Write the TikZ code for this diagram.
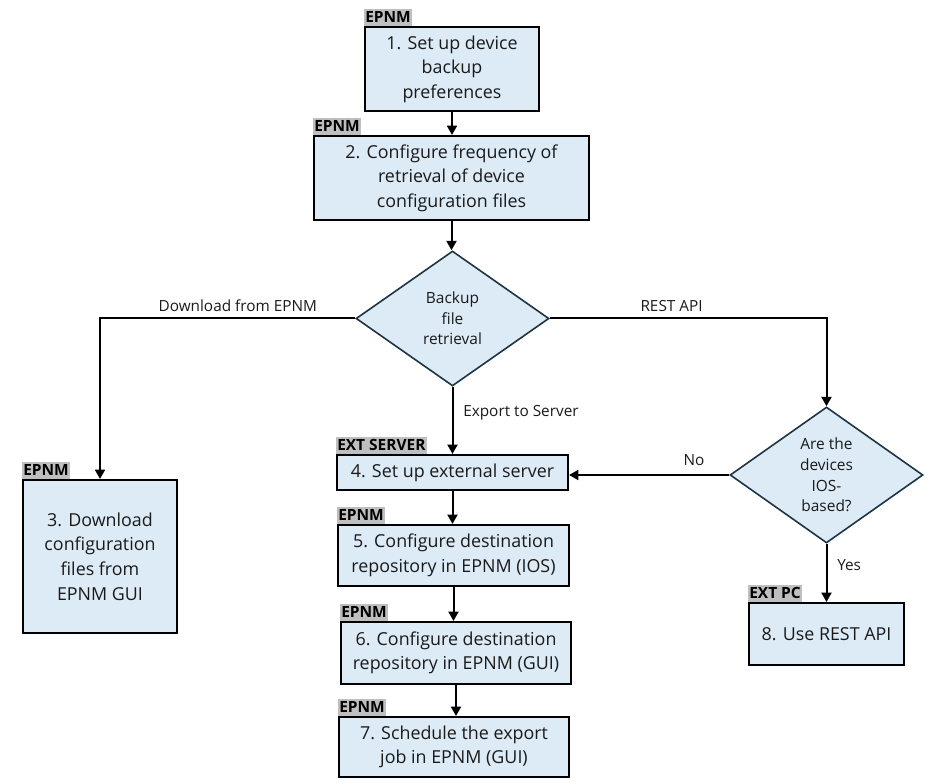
\documentclass[tikz,border=0pt]{standalone}
\usepackage{fontspec}
\setmainfont{Open Sans}
\usetikzlibrary{shapes.geometric,arrows.meta,positioning}
\definecolor{boxfill}{RGB}{221,235,247}
\definecolor{tagfill}{RGB}{191,191,191}
\definecolor{diaborder}{RGB}{30,52,66}
\definecolor{inktext}{RGB}{26,26,26}
\tikzset{step node/.style={rectangle,fill=boxfill,draw=black,line width=1.6pt,inner sep=0pt,align=center,text=inktext,font=\fontsize{13.4}{18.4}\selectfont},
         decision node/.style={diamond,fill=boxfill,draw=diaborder,line width=1.2pt,inner sep=0pt,align=center,text=inktext,font=\fontsize{11.6}{15.5}\selectfont},
         tag node/.style={rectangle,fill=tagfill,draw=none,inner xsep=0.8pt,inner ysep=0pt,minimum height=12.75pt,font=\fontsize{11.6}{12}\selectfont\bfseries},
         edge label/.style={rectangle,draw=none,fill=none,text=inktext,font=\fontsize{11.5}{12}\selectfont}
}

\begin{document}
\begin{tikzpicture}[x=0.75pt,y=-0.75pt,
flow/.style={line width=1.5pt,-{Triangle[length=7pt,width=7.5pt]}}]
\useasboundingbox (0,0) rectangle (929,784);

% steps
\node[step node,minimum width=174*0.75pt,minimum height=84*0.75pt] (1) at (452,69) {1. Set up device\\backup\\preferences};
\node[step node,minimum width=275*0.75pt,minimum height=84*0.75pt] (2) at (451.5,178) {2. Configure frequency of\\retrieval of device\\configuration files};
\node[step node,minimum width=154*0.75pt,minimum height=153*0.75pt] (3) at (100,556.5) {3. Download\\configuration\\files from\\EPNM GUI};
\node[step node,minimum width=231*0.75pt,minimum height=35*0.75pt] (4) at (452.5,472.5) {4. Set up external server};
\node[step node,minimum width=231*0.75pt,minimum height=61*0.75pt] (5) at (453.5,555.5) {5. Configure destination\\repository in EPNM (IOS)};
\node[step node,minimum width=230*0.75pt,minimum height=62*0.75pt] (6) at (456,653) {6. Configure destination\\repository in EPNM (GUI)};
\node[step node,minimum width=230*0.75pt,minimum height=60*0.75pt] (7) at (454,747) {7. Schedule the export\\job in EPNM (GUI)};
\node[step node,minimum width=155*0.75pt,minimum height=62*0.75pt] (8) at (826.5,634) {8. Use REST API};

% decisions
\node[decision node,minimum width=193*0.75pt,minimum height=135*0.75pt] (q1) at (452.5,318.5) {Backup\\file\\retrieval};
\node[decision node,minimum width=193*0.75pt,minimum height=136*0.75pt] (q2) at (826.5,475) {Are the\\devices\\IOS-\\based?};

% tags
\node[tag node,anchor=south west] (t1) at (1.north west) {EPNM};
\node[tag node,anchor=south west] (t2) at (2.north west) {EPNM};
\node[tag node,anchor=south west] (t3) at (3.north west) {EPNM};
\node[tag node,anchor=south west] (t4) at (4.north west) {EXT SERVER};
\node[tag node,anchor=south west] (t5) at (5.north west) {EPNM};
\node[tag node,anchor=south west] (t6) at (6.north west) {EPNM};
\node[tag node,anchor=south west] (t7) at (7.north west) {EPNM};
\node[tag node,anchor=south west] (t8) at (8.north west) {EXT PC};

% connectors
\draw[flow] (1.south) -- (1.south |- 2.north);
\draw[flow] (2.south) -- (2.south |- q1.north);
\draw[flow] (q1.west) -| node[edge label,pos=0.23,above=1pt] {Download from EPNM} (3.north);
\draw[flow] (q1.east) -| node[edge label,pos=0.22,above=1pt] {REST API} (q2.north);
\draw[flow] (q1.south) -- node[edge label,pos=0.38,right=4pt] {Export to Server} (q1.south |- 4.north);
\draw[flow] (q2.west) -- node[edge label,pos=0.22,above=3pt] {No} (q2.west -| 4.east);
\draw[flow] (q2.south) -- node[edge label,pos=0.37,right=4pt] {Yes} (q2.south |- 8.north);
\draw[flow] (4.south) -- (4.south |- 5.north);
\draw[flow] (5.south) -- (5.south |- 6.north);
\draw[flow] (6.south) -- (6.south |- 7.north);
\end{tikzpicture}
\end{document}
